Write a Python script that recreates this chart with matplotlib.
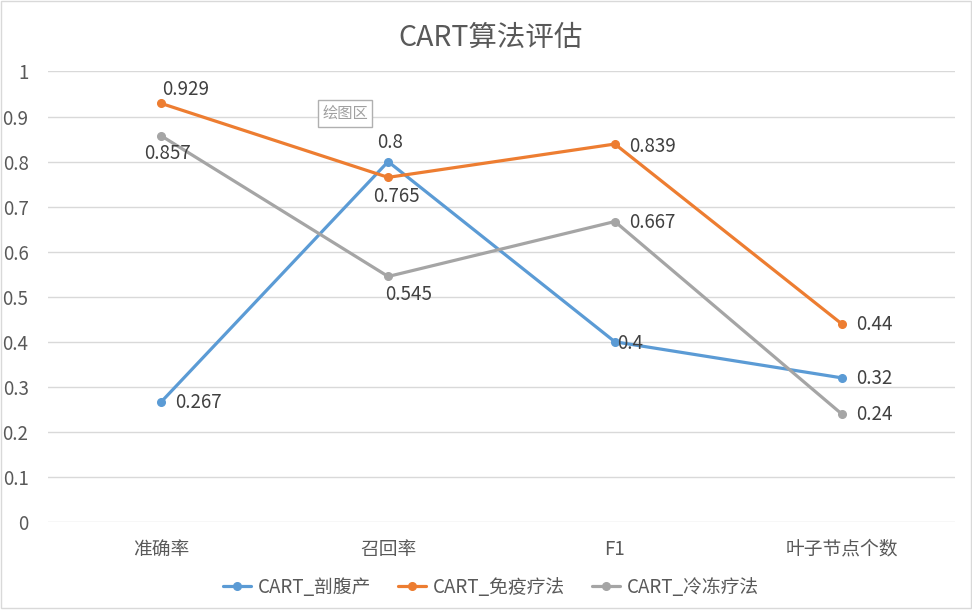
import matplotlib.pyplot as plt
from matplotlib.patches import Rectangle

plt.rcParams['font.family'] = ['Noto Sans CJK SC', 'DejaVu Sans']

categories = ['准确率', '召回率', 'F1', '叶子节点个数']
series_names = ['CART_剖腹产', 'CART_免疫疗法', 'CART_冷冻疗法']
values_pfc = [0.267, 0.8, 0.4, 0.32]
values_myl = [0.929, 0.765, 0.839, 0.44]
values_ldl = [0.857, 0.545, 0.667, 0.24]
yticks = [0, 0.1, 0.2, 0.3, 0.4, 0.5, 0.6, 0.7, 0.8, 0.9, 1]
ytick_labels = ['0', '0.1', '0.2', '0.3', '0.4', '0.5', '0.6', '0.7', '0.8', '0.9', '1']

colors = ['#5B9BD5', '#ED7D31', '#A5A5A5']
# label offsets in pixels (dx, dy) and horizontal alignment
label_pos = [
    [(14, -1, 'left'), (2, 19, 'center'), (2, -2, 'left'), (14, -1, 'left')],
    [(1, 14, 'left'), (8, -19, 'center'), (14, -2, 'left'), (14, -1, 'left')],
    [(6, -18, 'center'), (20, -18, 'center'), (14, -1, 'left'), (14, -1, 'left')],
]

fig = plt.figure(figsize=(9.72, 6.11), dpi=100)
ax = fig.add_axes([48 / 972, 89 / 611, 907 / 972, 450.5 / 611])

x = list(range(len(categories)))
all_values = [values_pfc, values_myl, values_ldl]
for vals, name, c, pos in zip(all_values, series_names, colors, label_pos):
    ax.plot(x, vals, color=c, lw=2.3, marker='o', markersize=5.5, label=name,
            solid_capstyle='round', zorder=3)
    for xi, v, (dx, dy, ha) in zip(x, vals, pos):
        ax.annotate(f'{v:g}', (xi, v), xytext=(dx, dy), textcoords='offset pixels',
                    ha=ha, va='center', fontsize=13.5, color='#404040', zorder=4)

ax.set_xlim(-0.5, 3.5)
ax.set_ylim(0, 1)
ax.set_yticks(yticks)
ax.set_yticklabels(ytick_labels)
ax.set_xticks(x)
ax.set_xticklabels(categories)
ax.tick_params(axis='both', length=0, labelsize=13.5, labelcolor='#595959')
ax.tick_params(axis='y', pad=14)
ax.tick_params(axis='x', pad=12)
ax.grid(axis='y', color='#D9D9D9', lw=1)
ax.set_axisbelow(True)
for s in ax.spines.values():
    s.set_visible(False)

fig.text(491 / 972, 1 - 38 / 611, 'CART算法评估', ha='center', va='center',
         fontsize=20.5, color='#595959')

ax.legend(loc='center', bbox_to_anchor=(491 / 972, 24 / 611), bbox_transform=fig.transFigure,
          ncol=3, frameon=False, fontsize=13.5, labelcolor='#595959',
          handlelength=1.5, handletextpad=0.4, columnspacing=1.4)

# tooltip from the screenshot
fig.text(345 / 972, 1 - 113.5 / 611, '绘图区', ha='center', va='center', fontsize=11,
         color='#A0A0A0',
         bbox=dict(boxstyle='square,pad=0.3', fc='white', ec='#B0B0B0', lw=1))

fig.patches.append(Rectangle((0.5 / 972, 3 / 611), 970 / 972, 607 / 611,
                             transform=fig.transFigure, fill=False,
                             ec='#D9D9D9', lw=1))

fig.savefig('out.png', dpi=100)
